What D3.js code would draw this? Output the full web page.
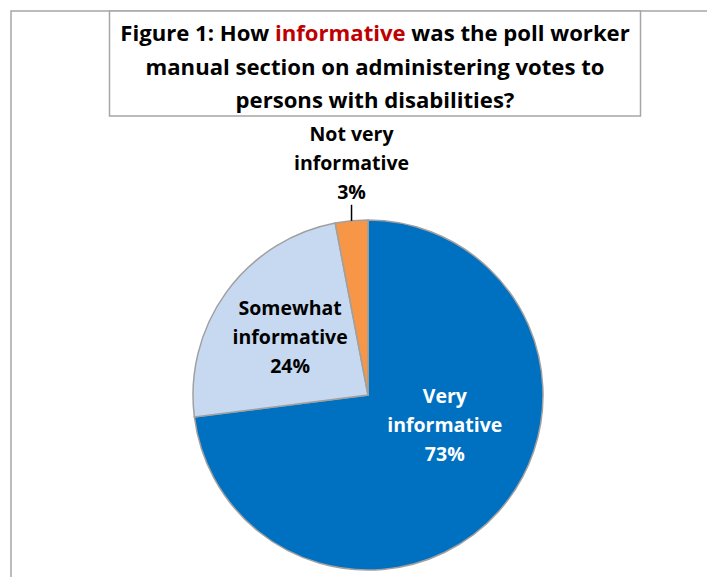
<!DOCTYPE html>
<html lang="en">
<head>
<meta charset="UTF-8">
<title>Figure 1</title>
<style>
  body { margin: 0; background: #fff; }
  svg text { font-family: "Open Sans", "Noto Sans", sans-serif; font-weight: bold; }
</style>
</head>
<body>
<div id="chart"></div>
<script src="https://cdn.jsdelivr.net/npm/d3@7"></script>
<script>
// data
var categories = ["Very informative", "Somewhat informative", "Not very informative"];
var shares = [73, 24, 3];
var labelLines = [["Very", "informative", "73%"], ["Somewhat", "informative", "24%"], ["Not very", "informative", "3%"]];
var sliceColors = ["#0070C0", "#C6D9F1", "#F79646"];

var W = 707, H = 577;
var cx = 368, cy = 395, R = 175;

var svg = d3.select("#chart").append("svg")
  .attr("width", W).attr("height", H);

// outer frame (runs off the right / bottom edge)
svg.append("rect")
  .attr("x", 11).attr("y", 11)
  .attr("width", W + 20).attr("height", H + 20)
  .attr("fill", "none").attr("stroke", "#a6a6a6").attr("stroke-width", 1.5);

// title box
svg.append("rect")
  .attr("x", 109.5).attr("y", 11)
  .attr("width", 531).attr("height", 105)
  .attr("fill", "#fff").attr("stroke", "#a6a6a6").attr("stroke-width", 1.5);

var title = svg.append("g").attr("class", "title");
var t1 = title.append("text").attr("x", 375).attr("y", 41).attr("text-anchor", "middle");
t1.append("tspan").text("Figure 1: How ");
t1.append("tspan").attr("fill", "#C00000").text("informative");
t1.append("tspan").text(" was the poll worker");
title.append("text").attr("x", 375).attr("y", 75).attr("text-anchor", "middle")
  .text("manual section on administering votes to");
title.append("text").attr("x", 375).attr("y", 108).attr("text-anchor", "middle")
  .text("persons with disabilities?");

// one font size for the title, fitted to the first two lines' widths
var titleWidths = [514, 455];
var scales = [];
title.selectAll("text").style("font-size", "20px");
title.selectAll("text").each(function(d, i) {
  if (i < 2) scales.push(titleWidths[i] / this.getComputedTextLength());
});
title.selectAll("text").style("font-size", (20 * d3.mean(scales)) + "px");

var data = categories.map(function(c, i) {
  return { name: c, value: shares[i], color: sliceColors[i], lines: labelLines[i] };
});

var pie = d3.pie().sort(null).value(function(d) { return d.value; });
var arc = d3.arc().innerRadius(0).outerRadius(R);
var arcs = pie(data);

var g = svg.append("g").attr("transform", "translate(" + cx + "," + cy + ")");

g.selectAll("path.slice")
  .data(arcs)
  .enter().append("path")
  .attr("class", "slice")
  .attr("d", arc)
  .attr("fill", function(d) { return d.data.color; })
  .attr("stroke", "#a0a0a0")
  .attr("stroke-width", 1.5);

// label placement
var lineH = 29;
var fs = 19.5;

arcs.forEach(function(a, i) {
  var pos, color = "#000";
  if (i === 0) {
    var c = d3.arc().innerRadius(R * 0.5).outerRadius(R * 0.5).centroid(a);
    pos = [c[0] * 1.17, c[1] * 0.53];
    color = "#fff";
  } else if (i === 1) {
    pos = d3.arc().innerRadius(R * 0.55).outerRadius(R * 0.55).centroid(a);
  } else {
    // outside label with leader line
    var mid = (a.startAngle + a.endAngle) / 2;
    var px = Math.sin(mid) * R;
    var top = -Math.cos(mid) * R;
    g.append("line")
      .attr("x1", px).attr("x2", px)
      .attr("y1", top).attr("y2", top - 16)
      .attr("stroke", "#000").attr("stroke-width", 1.5);
    pos = [px, top - 57];
  }
  var txt = g.append("text")
    .attr("text-anchor", "middle")
    .attr("fill", color)
    .style("font-size", fs + "px");
  a.data.lines.forEach(function(l, k) {
    txt.append("tspan")
      .attr("x", pos[0])
      .attr("y", pos[1] + (k - 1) * lineH + 6)
      .text(l);
  });
});
</script>
</body>
</html>
